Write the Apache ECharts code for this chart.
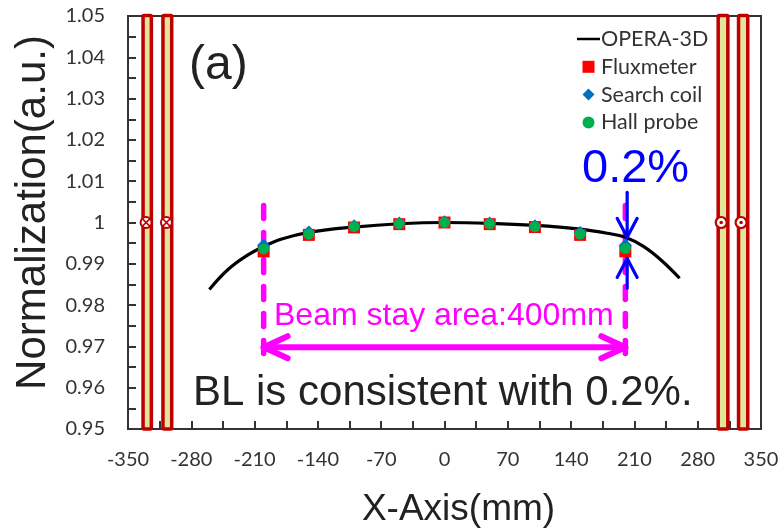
<!DOCTYPE html>
<html><head><meta charset="utf-8">
<style>html,body{margin:0;padding:0;background:#fff}#c{width:784px;height:529px}</style>
<script src="https://cdn.jsdelivr.net/npm/echarts@6/dist/echarts.min.js"></script>
</head><body><div id="c"></div>
<script>
const xPositions = [-200,-150,-100,-50,0,50,100,150,200];
const curveX = [-260,-240,-220,-200,-180,-150,-100,-50,0,50,100,150,180,200,220,240,260];
const curveY = [0.9838,0.9885,0.9918,0.9942,0.9960,0.9976,0.9989,0.9997,1,0.9998,0.9993,0.9984,0.9974,0.9964,0.9942,0.9908,0.9865];
const fluxmeter = [0.9930,0.9970,0.9988,0.9996,1,0.9996,0.9989,0.9970,0.9930];
const searchCoil = [0.9945,0.9977,0.9992,0.9999,1.0002,0.9999,0.9992,0.9976,0.9945];
const hallProbe = [0.9936,0.9972,0.9990,0.9997,1,0.9997,0.9990,0.9972,0.9937];
const coils = [[-335,-322.5],[-313,-300],[301,315],[323.5,337]];
const coilCrossX = [-330,-307.5];
const coilDotX = [306,328];
const beamEdges = [[-200,1.0041,0.9662],[200,1.0041,0.9662]];
const beamArrow = [[-200,0.9698,200,0.9698]];
const toleranceArrows = [[202,1.0073,202,0.9964],[202,0.9841,202,0.9913]];
const names = ['OPERA-3D','Fluxmeter','Search coil','Hall probe'];
const RED='#c00000', MAG='#ff00ff', BLUE='#0000ff';
const FONT='Lato', TXT='Liberation Sans';
const zip=(a,b)=>a.map((v,i)=>[v,b[i]]);

function arrowItem(color,width,wing,len){
  return (p,api)=>{
    const a=api.coord([api.value(0),api.value(1)]), b=api.coord([api.value(2),api.value(3)]);
    const style={stroke:color,lineWidth:width,fill:null,lineCap:'round',lineJoin:'round'};
    const heads=color===MAG?[[a,b],[b,a]]:[[a,b]];
    const L=Math.hypot(b[0]-a[0],b[1]-a[1]), ux=(b[0]-a[0])/L, uy=(b[1]-a[1])/L;
    const ch=[{type:'line',shape:{x1:a[0],y1:a[1],x2:b[0],y2:b[1]},style}];
    heads.forEach(([s,t])=>{
      const d=s===a?1:-1;
      ch.push({type:'polyline',shape:{points:[
        [t[0]-d*ux*len-uy*wing,t[1]-d*uy*len+ux*wing],[t[0],t[1]],[t[0]-d*ux*len+uy*wing,t[1]-d*uy*len-ux*wing]]},style});
    });
    return {type:'group',children:ch};
  };
}
const chart=echarts.init(document.getElementById('c'),null,{renderer:'canvas'});
chart.setOption({
  animation:false,
  backgroundColor:'#fff',
  grid:{left:128,right:23,top:16,bottom:100,outerBoundsMode:'none',show:true,borderColor:'#333',borderWidth:2,backgroundColor:'#fff'},
  xAxis:{type:'value',min:-350,max:350,interval:70,
    axisLine:{lineStyle:{color:'#333',width:2},onZero:false},
    axisTick:{inside:true,length:8,lineStyle:{color:'#333',width:2}},
    minorTick:{show:true,splitNumber:2,length:8,lineStyle:{color:'#333',width:2}},
    splitLine:{show:false},
    axisLabel:{fontFamily:FONT,fontSize:20,color:'#333',margin:21,showMinLabel:true,showMaxLabel:true,hideOverlap:false},
    name:'X-Axis(mm)',nameLocation:'middle',nameGap:62,nameTextStyle:{fontFamily:TXT,fontSize:37,color:'#222',padding:[0,0,0,28]}},
  yAxis:{type:'value',min:0.95,max:1.05,interval:0.01,
    axisLine:{lineStyle:{color:'#333',width:2},onZero:false},
    axisTick:{inside:true,length:8,lineStyle:{color:'#333',width:2}},
    minorTick:{show:true,splitNumber:2,length:8,lineStyle:{color:'#333',width:2}},
    splitLine:{show:false},
    axisLabel:{fontFamily:FONT,fontSize:20,color:'#333',margin:23,formatter:v=>Math.abs(v-1)<1e-6?'1':v.toFixed(2)},
    name:'Normalization(a.u.)',nameLocation:'middle',nameGap:73,nameTextStyle:{fontFamily:TXT,fontSize:42,color:'#222',padding:[0,0,0,20]}},
  legend:{left:572,top:23,orient:'vertical',itemGap:5.8,itemWidth:23,itemHeight:12,symbolKeepAspect:true,
    data:[{name:names[0],icon:'path://M0,9 L24,9 L24,11.6 L0,11.6 Z'},
      {name:names[1],icon:'path://M0,0H10V10H0Z'},
      {name:names[2],icon:'path://M5,0L10,5L5,10L0,5Z'},
      {name:names[3],icon:'path://M0,5A5,5 0 1 1 10,5A5,5 0 1 1 0,5Z'}],
    textStyle:{fontFamily:FONT,fontSize:21.5,color:'#333',padding:[0,0,0,-4]}},
  series:[
    {type:'custom',silent:true,z:3,clip:false,data:coils,
      renderItem:(p,api)=>{
        const a=api.coord([api.value(0),0.95]), b=api.coord([api.value(1),1.05]);
        return {type:'rect',shape:{x:a[0]+1.5,y:b[1]-0.5,width:b[0]-a[0]-3,height:a[1]-b[1]+0.5,r:1},
          style:{fill:'#e3e69a',stroke:RED,lineWidth:3.5}};
      }},
    {type:'custom',silent:true,z:4,clip:false,data:coilCrossX.map(x=>[x,1]),
      renderItem:(p,api)=>{
        const c=api.coord([api.value(0),api.value(1)]), r=5.5, k=r*0.7;
        const s={stroke:RED,lineWidth:1.5,fill:null};
        return {type:'group',children:[
          {type:'circle',shape:{cx:c[0],cy:c[1],r},style:{fill:'#fff',stroke:RED,lineWidth:2}},
          {type:'line',shape:{x1:c[0]-k,y1:c[1]-k,x2:c[0]+k,y2:c[1]+k},style:s},
          {type:'line',shape:{x1:c[0]-k,y1:c[1]+k,x2:c[0]+k,y2:c[1]-k},style:s}]};
      }},
    {type:'custom',silent:true,z:4,clip:false,data:coilDotX.map(x=>[x,1]),
      renderItem:(p,api)=>{
        const c=api.coord([api.value(0),api.value(1)]);
        return {type:'group',children:[
          {type:'circle',shape:{cx:c[0],cy:c[1],r:5.5},style:{fill:'#fff',stroke:RED,lineWidth:2.2}},
          {type:'circle',shape:{cx:c[0],cy:c[1],r:1.8},style:{fill:RED}}]};
      }},
    {type:'custom',silent:true,z:5,clip:false,data:beamEdges,
      renderItem:(p,api)=>{
        const a=api.coord([api.value(0),api.value(1)]), b=api.coord([api.value(0),api.value(2)]);
        return {type:'line',shape:{x1:a[0],y1:a[1],x2:b[0],y2:b[1]},
          style:{stroke:MAG,lineWidth:5.5,lineCap:'round',lineDash:[13,14]}};
      }},
    {name:names[0],type:'line',z:6,smooth:0.4,showSymbol:false,symbol:'none',data:zip(curveX,curveY),
      lineStyle:{color:'#000',width:3.2},itemStyle:{color:'#000'}},
    {name:names[1],type:'scatter',z:7,symbol:'rect',symbolSize:12,data:zip(xPositions,fluxmeter),itemStyle:{color:'#ff0000',opacity:1}},
    {name:names[2],type:'scatter',z:8,symbol:'diamond',symbolSize:13,data:zip(xPositions,searchCoil),itemStyle:{color:'#0070c0',opacity:1}},
    {name:names[3],type:'scatter',z:9,symbol:'circle',symbolSize:11,data:zip(xPositions,hallProbe),itemStyle:{color:'#00b050',opacity:1}},
    {type:'custom',silent:true,z:10,clip:false,data:beamArrow,renderItem:arrowItem(MAG,6,11,24)},
    {type:'custom',silent:true,z:11,clip:false,data:toleranceArrows,renderItem:arrowItem(BLUE,3.2,10,19)}
  ],
  graphic:[
    {type:'text',z:20,left:189,top:42,style:{text:'(a)',font:'48px "Liberation Sans"',fill:'#222'}},
    {type:'text',z:20,left:582,top:146,style:{text:'0.2%',font:'47px "Liberation Sans"',fill:BLUE}},
    {type:'text',z:20,left:274,top:300,style:{text:'Beam stay area:400mm',font:'32px "Liberation Sans"',fill:MAG}},
    {type:'text',z:20,left:193,top:372,style:{text:'BL is consistent with 0.2%.',font:'42px "Liberation Sans"',fill:'#222'}}
  ]
});
</script></body></html>
